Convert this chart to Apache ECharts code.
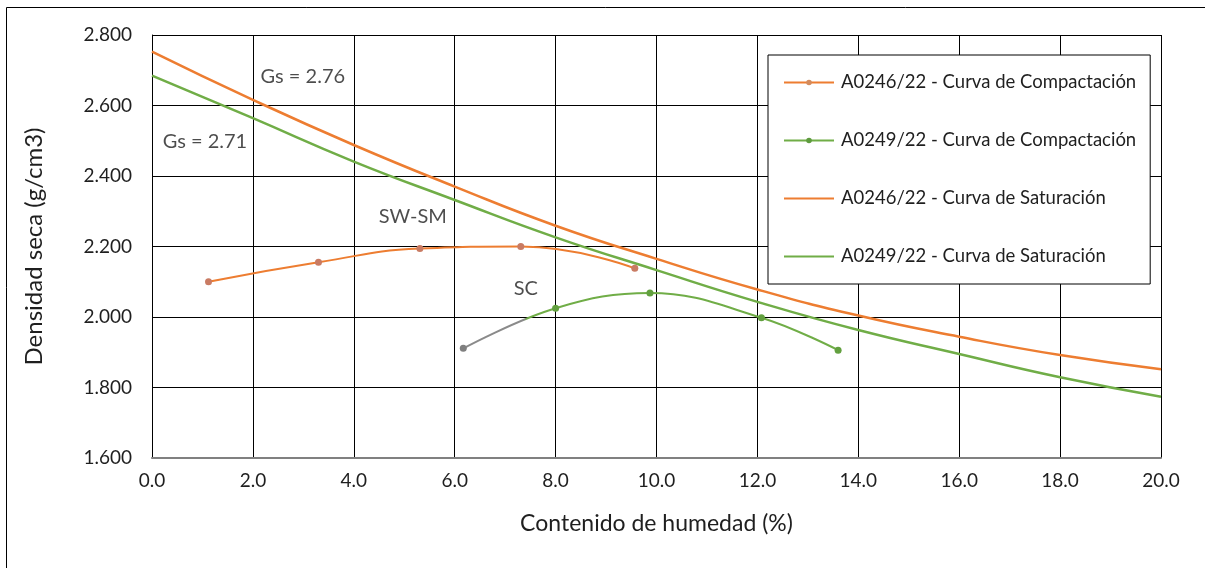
<!DOCTYPE html>
<html>
<head>
<meta charset="utf-8">
<script src="https://cdn.jsdelivr.net/npm/echarts@6/dist/echarts.min.js"></script>
<style>
  html, body { margin: 0; padding: 0; background: #fff; }
  #chart { width: 1205px; height: 568px; }
</style>
</head>
<body>
<div id="chart"></div>
<script>
// Compaction test points: moisture content (%) and dry density (g/cm3)
const compA0246X = [1.12, 3.30, 5.31, 7.31, 9.57];
const compA0246Y = [2.100, 2.155, 2.194, 2.200, 2.138];
const compA0249X = [6.17, 8.00, 9.87, 12.08, 13.60];
const compA0249Y = [1.911, 2.025, 2.068, 1.998, 1.906];

// Saturation (zero air voids) curves
const satX = [0, 2, 4, 6, 8, 10, 12, 14, 16, 18, 20];
const satA0246Y = [2.753, 2.616, 2.488, 2.370, 2.259, 2.165, 2.078, 2.004, 1.944, 1.892, 1.852];
const satA0249Y = [2.685, 2.564, 2.441, 2.332, 2.226, 2.133, 2.043, 1.963, 1.895, 1.829, 1.774];

// Text notes placed in data coordinates: [x, y, text]
const notes = [
  [2.99, 2.681, 'Gs = 2.76'],
  [1.05, 2.499, 'Gs = 2.71'],
  [5.17, 2.284, 'SW-SM'],
  [7.41, 2.082, 'SC']
];

const seriesNames = [
  'A0246/22 - Curva de Compactación',
  'A0249/22 - Curva de Compactación',
  'A0246/22 - Curva de Saturación',
  'A0249/22 - Curva de Saturación'
];

const ORANGE = '#ED7D31';
const GREEN = '#70AD47';
const GREY = '#8A8A8A';
const FONT = 'Lato, "Open Sans", sans-serif';
const TXT = '#1F1F1F';

const zip = (xs, ys) => xs.map((x, i) => [x, ys[i]]);

// First leg of the A0249 compaction curve is drawn grey, the rest green
const greyUntil = 7.4;
const span = compA0249X[compA0249X.length - 1] - compA0249X[0];
const cut = (greyUntil - compA0249X[0]) / span;
const a0249Line = new echarts.graphic.LinearGradient(0, 0, 1, 0, [
  { offset: 0, color: GREY },
  { offset: cut, color: GREY },
  { offset: cut + 0.01, color: GREEN },
  { offset: 1, color: GREEN }
]);
const a0249Points = zip(compA0249X, compA0249Y).map((p, i) =>
  i === 0 ? { value: p, itemStyle: { color: '#7F7F7F' } } : p);

const chart = echarts.init(document.getElementById('chart'), null, { renderer: 'canvas' });

chart.setOption({
  backgroundColor: '#fff',
  animation: false,
  textStyle: { fontFamily: FONT },
  graphic: [
    { type: 'line', shape: { x1: 6.5, y1: 7.5, x2: 1205, y2: 7.5 }, style: { stroke: '#000', lineWidth: 1 } },
    { type: 'line', shape: { x1: 6.5, y1: 7.5, x2: 6.5, y2: 568 }, style: { stroke: '#000', lineWidth: 1 } }
  ],
  grid: { left: 152, right: 44, top: 35, bottom: 110 },
  legend: {
    orient: 'vertical',
    left: 768,
    top: 55,
    padding: [18, 14, 18, 15],
    itemGap: 39,
    itemWidth: 50,
    itemHeight: 7,
    borderColor: '#000',
    borderWidth: 1,
    backgroundColor: '#fff',
    textStyle: { fontFamily: FONT, fontSize: 18.5, color: TXT, padding: [0, 0, 0, 2] },
    data: [
      { name: seriesNames[0], itemStyle: { color: '#D38B5D' }, lineStyle: { color: ORANGE } },
      { name: seriesNames[1], itemStyle: { color: '#5E9B3E' }, lineStyle: { color: GREEN } },
      { name: seriesNames[2], itemStyle: { opacity: 0 }, lineStyle: { color: ORANGE } },
      { name: seriesNames[3], itemStyle: { opacity: 0 }, lineStyle: { color: GREEN } }
    ]
  },
  xAxis: {
    type: 'value',
    min: 0, max: 20, interval: 2,
    name: 'Contenido de humedad (%)',
    nameLocation: 'middle',
    nameGap: 54,
    nameTextStyle: { fontFamily: FONT, fontSize: 23, color: TXT },
    axisLine: { show: true, onZero: false, lineStyle: { color: '#808080', width: 2 } },
    axisTick: { show: false },
    axisLabel: { fontFamily: FONT, fontSize: 19, color: TXT, margin: 13, formatter: v => v.toFixed(1) },
    splitLine: { show: true, lineStyle: { color: '#000', width: 1 } }
  },
  yAxis: {
    type: 'value',
    min: 1.6, max: 2.8, interval: 0.2,
    name: 'Densidad seca (g/cm3)',
    nameLocation: 'middle',
    nameGap: 106,
    nameRotate: 90,
    nameTextStyle: { fontFamily: FONT, fontSize: 24, color: TXT },
    axisLine: { show: true, lineStyle: { color: '#000', width: 1 } },
    axisTick: { show: false },
    axisLabel: { fontFamily: FONT, fontSize: 19, color: TXT, margin: 20, formatter: v => v.toFixed(3) },
    splitLine: { show: true, lineStyle: { color: '#000', width: 1 } }
  },
  series: [
    {
      name: seriesNames[0],
      type: 'line',
      smooth: 0.5,
      data: zip(compA0246X, compA0246Y),
      symbol: 'circle',
      symbolSize: 7,
      itemStyle: { color: '#C97B63' },
      lineStyle: { color: ORANGE, width: 2 },
      z: 4
    },
    {
      name: seriesNames[1],
      type: 'line',
      smooth: 0.4,
      data: a0249Points,
      symbol: 'circle',
      symbolSize: 7,
      itemStyle: { color: '#62A03F' },
      lineStyle: { color: a0249Line, width: 2 },
      z: 4
    },
    {
      name: seriesNames[2],
      type: 'line',
      smooth: true,
      data: zip(satX, satA0246Y),
      symbol: 'none',
      itemStyle: { color: ORANGE },
      lineStyle: { color: ORANGE, width: 2.5 },
      z: 3
    },
    {
      name: seriesNames[3],
      type: 'line',
      smooth: true,
      data: zip(satX, satA0249Y),
      symbol: 'none',
      itemStyle: { color: GREEN },
      lineStyle: { color: GREEN, width: 2.5 },
      z: 3
    },
    {
      name: 'notas',
      type: 'scatter',
      data: notes,
      symbolSize: 0,
      silent: true,
      label: {
        show: true,
        position: 'inside',
        formatter: p => p.data[2],
        fontFamily: FONT,
        fontSize: 20,
        color: TXT
      },
      z: 5
    }
  ]
});
</script>
</body>
</html>
